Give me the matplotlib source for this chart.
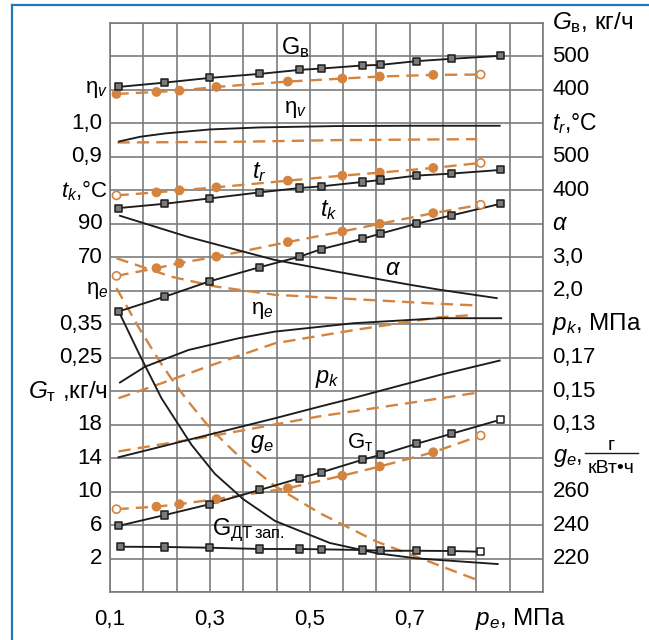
import matplotlib
matplotlib.use("Agg")
import matplotlib.pyplot as plt
from matplotlib.lines import Line2D
import numpy as np

plt.rcParams["font.family"] = ["Liberation Sans", "DejaVu Sans"]
plt.rcParams["mathtext.fontset"] = "custom"
plt.rcParams["mathtext.rm"] = "Liberation Sans"
plt.rcParams["mathtext.it"] = "Liberation Sans:italic"
plt.rcParams["mathtext.bf"] = "Liberation Sans:bold"

BLACK = "#1c1c1c"
ORANGE = "#d4843e"
GRID = "#777777"
FRAME = "#2277b5"
SQ_FACE = "#7a7a7a"

# ---- scales: (reference value, grid row of that value from the bottom, value per row)
SC_GV = (500, 16, 100)
SC_ETAV = (1.0, 14, 0.1)
SC_TR = (500, 13, 100)
SC_TK = (90, 11, 20)
SC_ALPHA = (3.0, 10, 1.0)
SC_ETAE = (0.35, 8, 0.1)
SC_PK = (0.17, 7, 0.02)
SC_GT = (18, 5, 4)
SC_GE = (260, 3, 20)

# ---- measured points: diesel (black, squares) and gas-diesel (orange, circles)
pe_sq = [0.117, 0.21, 0.30, 0.40, 0.48, 0.523, 0.605, 0.642, 0.713, 0.783, 0.882]
pe_ci = [0.113, 0.193, 0.239, 0.313, 0.456, 0.565, 0.64, 0.747, 0.842]
pe_dt = [0.121, 0.21, 0.30, 0.40, 0.48, 0.523, 0.605, 0.642, 0.713, 0.783, 0.842]

gv_d = [409, 422, 436, 448, 460, 464, 473, 475, 486, 493, 502]
gv_g = [388, 394, 398, 409, 425, 434, 440, 445, 446]
tr_d = [347, 360, 376, 394, 407, 412, 425, 431, 444, 450, 461]
tr_g = [385, 394, 400, 409, 429, 444, 453, 467, 482]
tk_d = [37.6, 46.5, 55.7, 64.1, 70.4, 74.9, 81.0, 84.2, 90.0, 95.0, 102.0]
tk_g = [58.9, 63.5, 66.5, 70.4, 79.1, 85.4, 90.0, 96.4, 101.4]
gt_d = [5.9, 7.2, 8.5, 10.2, 11.6, 12.3, 13.8, 14.4, 15.7, 16.9, 18.6]
gt_g = [7.9, 8.2, 8.5, 9.1, 10.4, 11.9, 13.0, 14.7, 16.7]
gdt_pilot = [3.41, 3.38, 3.29, 3.14, 3.14, 3.10, 3.02, 2.93, 2.93, 2.90, 2.81]

# ---- smooth curves (no markers)
pe_etav_d = [0.118, 0.16, 0.21, 0.30, 0.40, 0.55, 0.70, 0.88]
etav_d = [0.946, 0.960, 0.970, 0.982, 0.988, 0.992, 0.993, 0.993]
pe_etav_g = [0.115, 0.35, 0.55, 0.835]
etav_g = [0.943, 0.945, 0.950, 0.953]

pe_alpha_d = [0.12, 0.256, 0.43, 0.554, 0.70, 0.76, 0.874]
alpha_d = [4.24, 3.61, 2.92, 2.57, 2.18, 2.03, 1.78]
pe_alpha_g = [0.113, 0.223, 0.31, 0.43, 0.76, 0.837]
alpha_g = [2.97, 2.42, 2.13, 1.88, 1.61, 1.56]

pe_etae_d = [0.12, 0.17, 0.257, 0.357, 0.43, 0.587, 0.76, 0.883]
etae_d = [0.176, 0.223, 0.273, 0.308, 0.328, 0.353, 0.368, 0.368]
pe_etae_g = [0.117, 0.20, 0.30, 0.43, 0.59, 0.76, 0.833]
etae_g = [0.129, 0.172, 0.226, 0.293, 0.333, 0.371, 0.378]

pe_pk_d = [0.117, 0.43, 0.52, 0.573, 0.76, 0.88]
pk_d = [0.1105, 0.1338, 0.1408, 0.1448, 0.1597, 0.1683]
pe_pk_g = [0.117, 0.30, 0.52, 0.70, 0.833]
pk_g = [0.114, 0.123, 0.135, 0.143, 0.149]

pe_ge_d = [0.116, 0.157, 0.203, 0.263, 0.31, 0.367, 0.43, 0.54, 0.633, 0.713, 0.876]
ge_d = [368.6, 343.1, 315.8, 288.0, 270.6, 255.4, 242.5, 229.3, 223.2, 220.1, 216.7]
pe_ge_g = [0.113, 0.157, 0.20, 0.233, 0.257, 0.293, 0.31, 0.367, 0.43, 0.52, 0.633, 0.713, 0.833]
ge_g = [381.6, 358.3, 337.5, 323.1, 313.7, 300.5, 295.0, 278.5, 263.3, 247.1, 230.2, 221.1, 207.4]

# ---- axis text
x_ticks = [0.1, 0.3, 0.5, 0.7]
left_scales = [
    (SC_ETAV, [1.0, 0.9], 1, r"$\mathrm{\eta}_v$", 16),
    (SC_TK, [90, 70], 0, r"$t_k$,°C", 16),
    (SC_ETAE, [0.35, 0.25], 2, r"$\mathrm{\eta}_e$", 16),
    (SC_GT, [18, 14, 10, 6, 2], 0, r"$G_\mathrm{т}$ ,кг/ч", 17.5),
]
right_scales = [
    (SC_GV, [500, 400], 0, r"$G_\mathrm{в}$, кг/ч", 17.5),
    (SC_TR, [500, 400], 0, r"$t_r$,°C", 16.5),
    (SC_ALPHA, [3.0, 2.0], 1, r"$\alpha$", 17),
    (SC_PK, [0.17, 0.15, 0.13], 2, r"$p_k$, МПа", 17.5),
    (SC_GE, [260, 240, 220], 0, None, 16),
]


def rows(values, scale):
    ref, row, step = scale
    return [row + (v - ref) / step for v in values]


def fmt(v, dec):
    return f"{v:.{dec}f}".replace(".", ",")


fig = plt.figure(figsize=(6.49, 6.40), dpi=100)
ax = fig.add_axes([110 / 649, 48 / 640, 433 / 649, 569 / 640])
step_x = 0.2 / 3
ax.set_xlim(0.1, 0.1 + 13 * step_x)
ax.set_ylim(0, 17)
ax.set_xticks(0.1 + np.arange(14) * step_x)
ax.set_yticks(range(18))
ax.tick_params(length=0, labelbottom=False, labelleft=False)
ax.grid(True, color=GRID, lw=1.15)
for sp in ax.spines.values():
    sp.set_color(GRID)
    sp.set_linewidth(1.15)
ax.set_axisbelow(True)


def dashed(pe, vals, scale):
    ax.plot(pe, rows(vals, scale), color=ORANGE, lw=1.7, dashes=(5.2, 3.0),
            zorder=3, dash_capstyle="butt")


def solid(pe, vals, scale):
    ax.plot(pe, rows(vals, scale), color=BLACK, lw=1.35, zorder=4)


def squares(pe, vals, scale, hollow=()):
    y = rows(vals, scale)
    ax.plot(pe, y, color=BLACK, lw=1.35, zorder=4)
    face = ["white" if i in hollow else SQ_FACE for i in range(len(pe))]
    ax.scatter(pe, y, marker="s", s=26, c=face, edgecolors=BLACK,
               linewidths=1.1, zorder=6)


def circles(pe, vals, scale, hollow=()):
    y = rows(vals, scale)
    dashed(pe, vals, scale)
    face = ["white" if i in hollow else ORANGE for i in range(len(pe))]
    ax.scatter(pe, y, marker="o", s=34, c=face, edgecolors=ORANGE,
               linewidths=1.2, zorder=5)


last_c = len(pe_ci) - 1
circles(pe_ci, gv_g, SC_GV, hollow=(last_c,))
squares(pe_sq, gv_d, SC_GV)
dashed(pe_etav_g, etav_g, SC_ETAV)
solid(pe_etav_d, etav_d, SC_ETAV)
circles(pe_ci, tr_g, SC_TR, hollow=(0, last_c))
squares(pe_sq, tr_d, SC_TR)
circles(pe_ci, tk_g, SC_TK, hollow=(0, last_c))
squares(pe_sq, tk_d, SC_TK)
dashed(pe_alpha_g, alpha_g, SC_ALPHA)
solid(pe_alpha_d, alpha_d, SC_ALPHA)
dashed(pe_etae_g, etae_g, SC_ETAE)
solid(pe_etae_d, etae_d, SC_ETAE)
dashed(pe_pk_g, pk_g, SC_PK)
solid(pe_pk_d, pk_d, SC_PK)
dashed(pe_ge_g, ge_g, SC_GE)
solid(pe_ge_d, ge_d, SC_GE)
circles(pe_ci, gt_g, SC_GT, hollow=(0, last_c))
squares(pe_sq, gt_d, SC_GT, hollow=(len(pe_sq) - 1,))
squares(pe_dt, gdt_pilot, SC_GT, hollow=(len(pe_dt) - 1,))

# ---- curve names inside the grid
FS = 16
ax.text(0.47, 16.27, r"$\mathrm{G}_\mathrm{в}$", fontsize=FS + 1, ha="center", va="center")
ax.text(0.472, 14.41, r"$\mathrm{\eta}_v$", fontsize=FS, ha="center", va="center")
ax.text(0.398, 12.55, r"$t_r$", fontsize=FS + 1, ha="center", va="center")
ax.text(0.538, 11.42, r"$t_k$", fontsize=FS + 1, ha="center", va="center")
ax.text(0.666, 9.66, r"$\alpha$", fontsize=FS + 1, ha="center", va="center")
ax.text(0.404, 8.40, r"$\mathrm{\eta}_e$", fontsize=FS, ha="center", va="center")
ax.text(0.536, 6.37, r"$p_k$", fontsize=FS + 1, ha="center", va="center")
ax.text(0.404, 4.42, r"$g_e$", fontsize=FS + 1, ha="center", va="center")
ax.text(0.60, 4.45, r"$\mathrm{G}_\mathrm{т}$", fontsize=FS, ha="center", va="center")
ax.text(0.304, 1.85, r"$\mathrm{G}_{\mathrm{ДТ\,зап.}}$", fontsize=FS + 1, ha="left", va="center")

# ---- scale labels
ly = ax.get_yaxis_transform()
for scale, ticks, dec, name, nfs in left_scales:
    for v, r in zip(ticks, rows(ticks, scale)):
        ax.text(-0.018, r, fmt(v, dec), transform=ly, fontsize=FS, ha="right", va="center")
    top = rows(ticks[:1], scale)[0] + 1
    ax.text(-0.004, top, name, transform=ly, fontsize=nfs, ha="right", va="center")

for scale, ticks, dec, name, nfs in right_scales:
    for v, r in zip(ticks, rows(ticks, scale)):
        ax.text(1.022, r, fmt(v, dec), transform=ly, fontsize=FS, ha="left", va="center")
    top = rows(ticks[:1], scale)[0] + 1
    if name:
        ax.text(1.02, top, name, transform=ly, fontsize=nfs, ha="left", va="center")

# g_e unit written as a fraction
ge_row = rows([SC_GE[0]], SC_GE)[0] + 1
ax.text(1.022, ge_row, r"$g_e$,", transform=ly, fontsize=17, ha="left", va="center")
ax.text(1.158, ge_row + 0.245, "г", transform=ly, fontsize=14, ha="center", va="baseline")
ax.text(1.158, ge_row - 0.44, "кВт•ч", transform=ly, fontsize=14, ha="center", va="baseline")
ax.add_line(Line2D([1.097, 1.219], [ge_row + 0.155] * 2, transform=ly, color=BLACK,
                   lw=1.0, clip_on=False))

# ---- x axis labels
lx = ax.get_xaxis_transform()
for v in x_ticks:
    ax.text(v, -0.048, fmt(v, 1), transform=lx, fontsize=FS, ha="center", va="center")
ax.text(0.83, -0.048, r"$p_e$, МПа", transform=lx, fontsize=17.5, ha="left", va="center")

# ---- blue frame (top and left edges)
fig.add_artist(Line2D([12 / 649, 12 / 649], [0, 1 - 5 / 640], transform=fig.transFigure,
                      color=FRAME, lw=1.6))
fig.add_artist(Line2D([12 / 649, 1], [1 - 5 / 640] * 2, transform=fig.transFigure,
                      color=FRAME, lw=1.6))

fig.savefig("out.png", dpi=100)
